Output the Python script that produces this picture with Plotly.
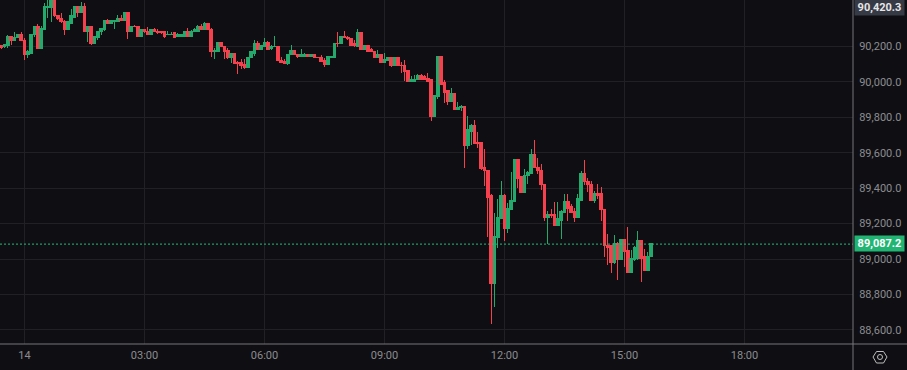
import pandas as pd
import plotly.graph_objects as go

open_ = [90203,90198,90202,90258,90235,90249,90264,90235,90153,90162,90264,90314,90190,90297,90416,90416,90470,90376,90359,90337,
90297,90331,90365,90427,90393,90427,90281,90314,90218,90252,90281,90297,90348,90326,90337,90337,90359,90343,90393,90281,
90314,90309,90258,90292,90284,90269,90292,90281,90281,90281,90264,90264,90275,90258,90258,90258,90281,90258,90286,90286,
90314,90292,90326,90297,90168,90168,90224,90201,90179,90139,90162,90111,90111,90100,90083,90134,90162,90218,90184,90201,
90224,90190,90196,90201,90122,90117,90105,90151,90179,90156,90145,90145,90156,90145,90156,90139,90139,90122,90100,90139,
90139,90218,90213,90258,90252,90246,90213,90201,90280,90184,90207,90184,90173,90139,90156,90111,90122,90139,90089,90134,
90094,90089,90066,90004,90004,90015,90038,90032,90021,90010,89803,89914,90140,89993,89948,89891,89931,89846,89852,89863,
89643,89722,89756,89660,89660,89514,89502,89356,88865,89119,89226,89361,89170,89282,89322,89559,89463,89373,89469,89485,
89587,89519,89502,89423,89232,89249,89249,89192,89220,89265,89322,89294,89271,89232,89333,89485,89440,89423,89333,89372,
89367,89282,89079,89074,88978,89085,88995,89113,89051,88927,89000,89006,89107,89012,88933,89012]
high = [90207,90213,90264,90258,90279,90264,90279,90247,90179,90269,90314,90326,90314,90444,90465,90470,90480,90376,90388,90348,
90337,90410,90427,90427,90450,90442,90314,90314,90258,90284,90303,90348,90354,90348,90343,90376,90376,90393,90393,90314,
90320,90309,90292,90292,90309,90292,90303,90297,90286,90281,90286,90281,90281,90275,90269,90281,90303,90292,90303,90320,
90326,90337,90326,90303,90190,90224,90224,90201,90190,90162,90162,90117,90128,90128,90139,90168,90235,90230,90207,90246,
90230,90207,90258,90201,90139,90128,90156,90207,90179,90156,90184,90162,90156,90156,90156,90139,90151,90134,90145,90145,
90218,90280,90258,90286,90258,90246,90235,90297,90280,90207,90207,90190,90173,90179,90156,90162,90139,90139,90134,90134,
90111,90122,90066,90032,90038,90043,90043,90038,90049,90010,89920,90140,90140,90010,89953,89965,89931,89886,89869,89863,
89807,89762,89784,89717,89660,89621,89502,89367,89260,89339,89440,89367,89316,89491,89559,89559,89463,89508,89497,89621,
89672,89570,89536,89423,89271,89282,89322,89322,89277,89367,89367,89311,89288,89367,89497,89559,89457,89440,89384,89423,
89406,89282,89141,89074,89136,89096,89113,89113,89181,89051,89074,89158,89107,89057,89040,89087]
low = [90185,90190,90190,90207,90235,90249,90232,90123,90134,90162,90254,90190,90190,90297,90359,90337,90367,90348,90329,90264,
90297,90331,90365,90365,90393,90281,90224,90207,90213,90235,90264,90286,90326,90326,90297,90337,90343,90343,90241,90281,
90309,90252,90258,90275,90269,90269,90281,90269,90269,90247,90264,90264,90252,90258,90258,90258,90258,90252,90286,90281,
90292,90292,90292,90140,90128,90168,90196,90128,90128,90105,90105,90043,90072,90072,90083,90134,90145,90184,90184,90201,
90184,90179,90196,90122,90105,90105,90094,90151,90151,90134,90145,90139,90139,90145,90134,90134,90117,90083,90100,90139,
90139,90196,90213,90246,90235,90207,90196,90201,90184,90179,90173,90168,90139,90139,90111,90111,90122,90083,90089,90089,
90049,90004,90004,90004,90004,90015,90015,90015,90004,89780,89803,89903,89987,89880,89869,89891,89841,89841,89835,89513,
89621,89643,89654,89626,89502,89412,89125,88634,88730,89062,89226,89102,89147,89282,89322,89401,89373,89373,89423,89485,
89514,89480,89390,89215,89085,89232,89192,89192,89113,89265,89215,89265,89209,89232,89333,89418,89378,89333,89316,89339,
89215,89012,88966,88921,88972,88882,88995,88955,88927,88927,88989,88995,88871,88933,88933,89012]
close = [90192,90209,90258,90235,90250,90264,90232,90153,90168,90269,90314,90190,90303,90422,90427,90470,90371,90354,90337,90297,
90337,90371,90427,90393,90427,90281,90314,90218,90258,90284,90303,90348,90326,90343,90343,90359,90343,90393,90281,90314,
90309,90258,90292,90281,90269,90292,90281,90277,90275,90258,90269,90269,90252,90264,90264,90281,90258,90286,90292,90314,
90297,90326,90292,90168,90179,90224,90196,90173,90139,90162,90105,90105,90094,90083,90139,90168,90218,90184,90207,90224,
90184,90201,90201,90122,90111,90105,90156,90179,90151,90145,90151,90156,90145,90156,90134,90134,90117,90100,90145,90145,
90218,90213,90258,90252,90246,90207,90207,90280,90184,90207,90173,90173,90139,90156,90111,90128,90139,90089,90134,90094,
90089,90060,90004,90015,90010,90038,90015,90015,90004,89803,89920,90140,89987,89942,89891,89931,89846,89857,89863,89643,
89728,89756,89654,89654,89508,89497,89350,88865,89125,89232,89361,89170,89288,89328,89559,89457,89373,89474,89491,89587,
89514,89497,89418,89232,89249,89243,89192,89226,89271,89322,89288,89265,89232,89339,89485,89435,89418,89333,89372,89361,
89277,89074,89068,88978,89085,88995,89113,89045,88927,89006,89068,89107,89006,88933,89017,89087.2]

bar_minutes = 5
first_bar = "2024-11-13 23:25"
y_ticks = [88600, 88800, 89000, 89200, 89400, 89600, 89800, 90000, 90200]
x_ticks = ["2024-11-14 00:00", "2024-11-14 03:00", "2024-11-14 06:00", "2024-11-14 09:00",
           "2024-11-14 12:00", "2024-11-14 15:00", "2024-11-14 18:00"]
x_labels = ["14", "03:00", "06:00", "09:00", "12:00", "15:00", "18:00"]
last_price = 89087.2
high_price = 90420.3

BG = "#0f0f13"
GRID = "#212125"
UP = "#23a96b"
DOWN = "#f7404d"
TXT = "#8c8c90"
AXIS = "#77777b"
FONT = "Roboto"

times = pd.date_range(first_bar, periods=len(close), freq=f"{bar_minutes}min")

fig = go.Figure(go.Candlestick(
    x=times, open=open_, high=high, low=low, close=close,
    whiskerwidth=0,
    increasing=dict(line=dict(color=UP, width=1), fillcolor=UP),
    decreasing=dict(line=dict(color=DOWN, width=1), fillcolor=DOWN),
    hoverinfo="skip",
))

fig.update_layout(
    width=907, height=370,
    margin=dict(l=0, r=54, t=0, b=26),
    paper_bgcolor=BG, plot_bgcolor=BG,
    showlegend=False, boxgap=0.28, boxgroupgap=0,
    font=dict(family=FONT, size=11, color=TXT),
    xaxis=dict(
        type="date",
        range=["2024-11-13 23:23:15", "2024-11-14 20:42:45"],
        rangeslider=dict(visible=False),
        tickmode="array", tickvals=x_ticks, ticktext=x_labels,
        showgrid=True, gridcolor=GRID, gridwidth=1, zeroline=False,
        ticks="outside", ticklen=1, tickcolor=BG,
        tickfont=dict(family=FONT, size=11, color=TXT),
    ),
    yaxis=dict(
        side="right",
        range=[88521, 90461],
        tickmode="array", tickvals=y_ticks, tickformat=",.1f",
        showgrid=True, gridcolor=GRID, gridwidth=1, zeroline=False,
        ticks="outside", ticklen=3, tickcolor=BG,
        tickfont=dict(family=FONT, size=11, color=TXT),
    ),
    shapes=[
        dict(type="line", xref="paper", yref="y", ysizemode="pixel", yanchor=last_price,
             x0=0, x1=1, y0=-0.52, y1=-0.52,
             line=dict(color="#26bd7a", width=1, dash="2px,2px")),
        dict(type="line", xref="x domain", yref="y domain", x0=-0.0, x1=907/853, y0=0, y1=0,
             line=dict(color=AXIS, width=1)),
        dict(type="line", xref="x domain", yref="y domain", x0=1, x1=1, y0=-26/344, y1=1,
             line=dict(color=AXIS, width=1)),
        dict(type="path", xref="x domain", yref="y domain",
             path=(f"M {873/853} {-13/344} L {876.5/853} {-7.5/344} L {883.5/853} {-7.5/344} "
                   f"L {887/853} {-13/344} L {883.5/853} {-19/344} L {876.5/853} {-19/344} Z"),
             line=dict(color="#bdbdbd", width=1)),
        dict(type="circle", xref="x domain", yref="y domain",
             x0=877.5/853, x1=882.5/853, y0=-15.5/344, y1=-10.5/344,
             line=dict(color="#bdbdbd", width=1)),
    ],
    annotations=[
        dict(xref="x domain", yref="y", x=854/853, y=high_price, xanchor="left", yanchor="middle",
             text=f"{high_price:,.1f}", showarrow=False, align="center", width=49, height=15,
             font=dict(family=FONT, size=11, color="#e6e6e6", weight="bold"),
             bgcolor="#363a45", borderpad=0),
        dict(xref="x domain", yref="y", x=854/853, y=last_price, xanchor="left", yanchor="middle",
             text=f"{last_price:,.1f}", showarrow=False, align="center", width=49, height=15,
             font=dict(family=FONT, size=11, color="#ffffff", weight="bold"),
             bgcolor="#21b573", borderpad=0),
    ],
)

fig.write_html(
    "out.html", config=dict(displayModeBar=False),
    post_script=("document.body.style.margin='0';"
                 "var s=document.createElement('style');"
                 "s.textContent='.boxes path{shape-rendering:crispEdges}';"
                 "document.head.appendChild(s);"),
)
